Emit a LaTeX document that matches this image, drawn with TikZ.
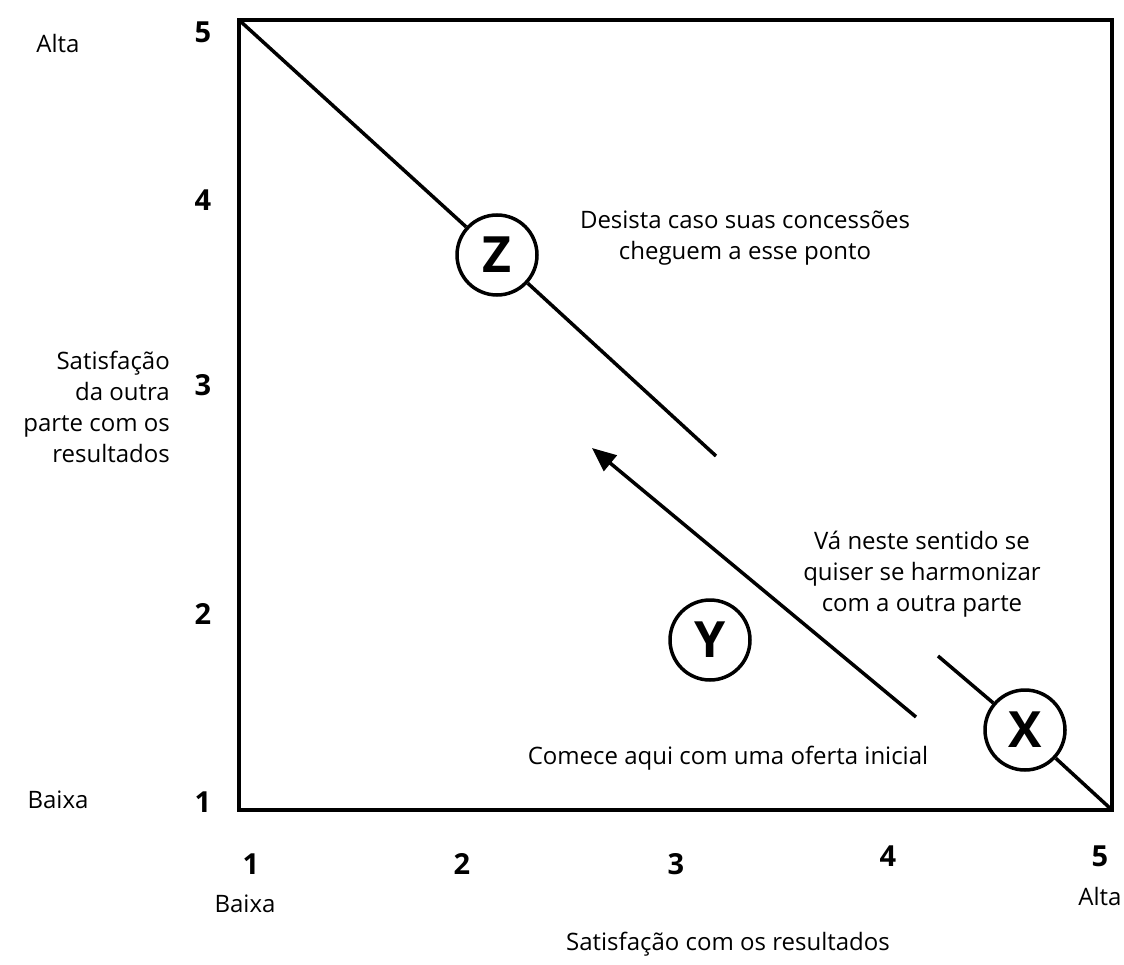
\documentclass[tikz,border=0pt]{standalone}
\usepackage{fontspec}
\setmainfont{Open Sans}
\usetikzlibrary{arrows.meta}
\begin{document}
\begin{tikzpicture}[x=1pt,y=-1pt,
  lbl/.style={font=\fontsize{24}{31}\selectfont, inner sep=0pt, align=center},
  num/.style={font=\fontsize{29}{30}\selectfont\bfseries, inner sep=0pt},
  pt/.style={circle, draw=black, line width=3.5pt, minimum size=80pt, inner sep=0pt, fill=white, font=\fontsize{50}{50}\selectfont\bfseries},
  diag/.style={line width=3.5pt}]
\useasboundingbox[fill=white] (0,0) rectangle (1124,965);
% frame
\draw[line width=4pt] (239,20) rectangle (1112,810);
\coordinate (tl) at (239,20);
\coordinate (br) at (1112,810);
\coordinate (zend) at (716,456);
\coordinate (xstart) at (938,656);
\coordinate (atail) at (916,717);
\coordinate (ahead) at (592,448);
% points
\node[pt] (Z) at (497,255) {Z};
\node[pt] (Y) at (710,640) {Y};
\node[pt] (X) at (1025,730) {X};
% lines
\draw[diag] (tl) -- (Z);
\draw[diag] (Z) -- (zend);
\draw[diag] (xstart) -- (X);
\draw[diag] (X) -- (br);
\draw[diag, -{Triangle[length=24pt,width=20pt]}] (atail) -- (ahead);
% y axis labels
\node[num] (y5) at (203,32) {5};
\node[num] (y4) at (203,200) {4};
\node[num] (y3) at (203,385) {3};
\node[num] (y2) at (203,614) {2};
\node[num] (y1) at (203,802) {1};
\node[lbl] (yalta) at (58,44) {Alta};
\node[lbl] (ybaixa) at (58,800) {Baixa};
\node[lbl, align=right, anchor=east] (ytitle) at (170,407) {Satisfação\\da outra\\parte com os\\resultados};
% x axis labels
\node[num] (x1) at (251,864) {1};
\node[num] (x2) at (462,864) {2};
\node[num] (x3) at (676,864) {3};
\node[num] (x4) at (888,856) {4};
\node[num] (x5) at (1100,856) {5};
\node[lbl] (xbaixa) at (245,904) {Baixa};
\node[lbl] (xalta) at (1100,896) {Alta};
\node[lbl] (xtitle) at (728,944) {Satisfação com os resultados};
% annotations
\node[lbl] (t1) at (745,238) {Desista caso suas concessões\\cheguem a esse ponto};
\node[lbl] (t2) at (922,574) {Vá neste sentido se\\quiser se harmonizar\\com a outra parte};
\node[lbl] (t3) at (728,758) {Comece aqui com uma oferta inicial};
\end{tikzpicture}
\end{document}
